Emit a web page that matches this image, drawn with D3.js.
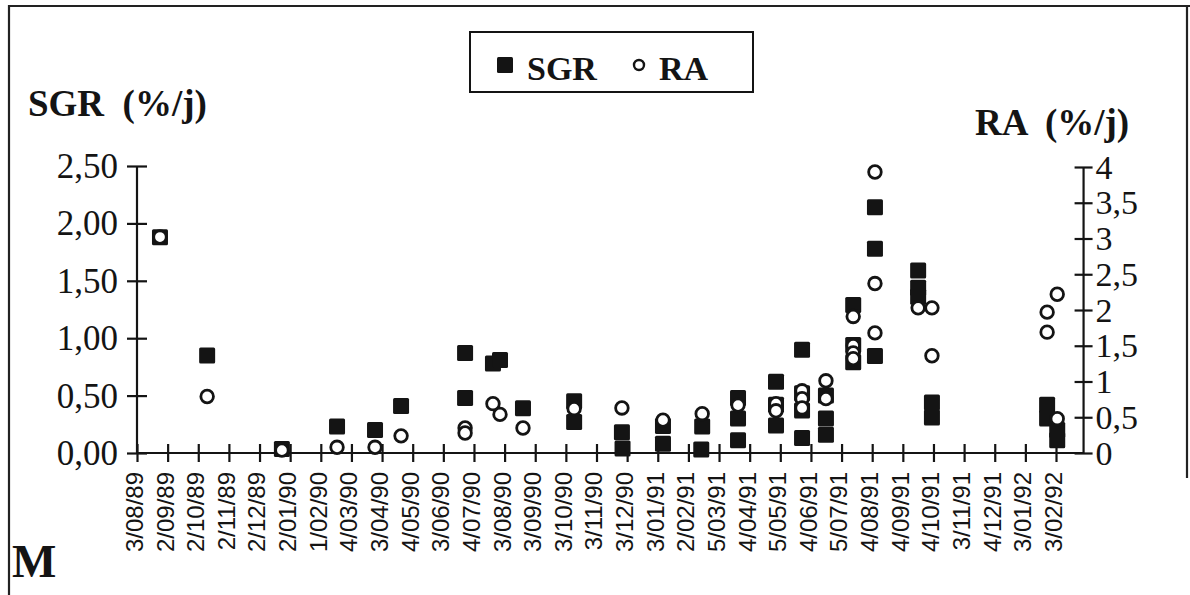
<!DOCTYPE html>
<html>
<head>
<meta charset="utf-8">
<script src="https://cdn.jsdelivr.net/npm/d3@7/dist/d3.min.js"></script>
<style>
  html, body { margin: 0; padding: 0; background: #fff; }
  svg { display: block; }
  text { white-space: pre; }
</style>
</head>
<body>
<script>
// ---------- data ----------
const dateLabels = ["3/08/89","2/09/89","2/10/89","2/11/89","2/12/89","2/01/90","1/02/90","4/03/90","3/04/90","4/05/90",
  "3/06/90","4/07/90","3/08/90","3/09/90","3/10/90","3/11/90","3/12/90","3/01/91","2/02/91","5/03/91",
  "4/04/91","5/05/91","4/06/91","5/07/91","4/08/91","4/09/91","4/10/91","3/11/91","4/12/91","3/01/92","3/02/92"];
const sgrTicks = [0, 0.5, 1, 1.5, 2, 2.5];
const raTicks = [0, 0.5, 1, 1.5, 2, 2.5, 3, 3.5, 4];

// position in months from 3/08/89 (tick index), value
const sgrPoints = [
  [0.75, 1.88], [2.29, 0.85], [4.73, 0.035], [6.53, 0.23], [7.77, 0.20], [8.62, 0.41],
  [10.71, 0.87], [10.71, 0.48], [11.62, 0.78], [11.85, 0.81], [12.60, 0.39],
  [14.27, 0.45], [14.27, 0.27], [15.83, 0.18], [15.85, 0.04],
  [17.17, 0.235], [17.17, 0.08], [18.45, 0.23], [18.42, 0.03],
  [19.62, 0.48], [19.62, 0.30], [19.62, 0.11],
  [20.86, 0.62], [20.86, 0.42], [20.86, 0.24],
  [21.71, 0.90], [21.71, 0.52], [21.71, 0.37], [21.71, 0.13],
  [22.49, 0.50], [22.49, 0.30], [22.49, 0.16],
  [23.38, 1.29], [23.38, 0.94], [23.38, 0.79],
  [24.09, 2.14], [24.09, 1.78], [24.09, 0.845],
  [25.50, 1.59], [25.50, 1.44], [25.50, 1.36],
  [25.95, 0.44], [25.95, 0.31],
  [29.71, 0.42], [29.71, 0.30], [30.04, 0.20], [30.04, 0.11]
];
const raPoints = [
  [0.75, 3.02], [2.29, 0.79], [4.73, 0.04], [6.53, 0.08], [7.77, 0.08], [8.62, 0.24],
  [10.71, 0.35], [10.71, 0.28], [11.62, 0.69], [11.85, 0.54], [12.60, 0.35],
  [14.27, 0.62], [15.83, 0.63], [17.17, 0.46], [18.45, 0.55], [19.62, 0.67],
  [20.86, 0.69], [20.86, 0.59],
  [21.71, 0.87], [21.71, 0.76], [21.71, 0.63],
  [22.49, 1.01], [22.49, 0.76],
  [23.38, 1.91], [23.38, 1.50], [23.38, 1.40], [23.38, 1.32],
  [24.09, 3.93], [24.09, 2.37], [24.09, 1.68],
  [25.50, 2.03], [25.95, 2.03], [25.95, 1.36],
  [29.71, 1.69], [29.71, 1.97], [30.04, 2.22], [30.04, 0.48]
];

// ---------- setup ----------
const W = 1190, H = 595;
const ink = "#141414";
const serif = "'Liberation Serif', 'Times New Roman', serif";
const sans = "'Liberation Sans', Arial, sans-serif";

const svg = d3.select("body").append("svg").attr("width", W).attr("height", H);

const x = d3.scaleLinear().domain([0, dateLabels.length - 1]).range([137, 1056]);
const xEnd = x(30.9);
const yL = d3.scaleLinear().domain([0, 2.5]).range([453, 166]);
const yR = d3.scaleLinear().domain([0, 4]).range([453, 167]);

const loc = d3.formatLocale({decimal: ",", thousands: " ", grouping: [3], currency: ["", ""]});
const fmtL = loc.format(".2f");
const fmtR = loc.format(".1~f");

// frame
svg.append("path")
  .attr("d", `M9,596 L9,6 L1190,6 M1187,6 L1187,478`)
  .attr("fill", "none").attr("stroke", "#222").attr("stroke-width", 2.2);

// ---------- axes ----------
const axL = svg.append("g").attr("transform", `translate(${x(0)},0)`)
  .call(d3.axisLeft(yL).tickValues(sgrTicks).tickFormat(fmtL).tickSize(0).tickPadding(0));
const axR = svg.append("g").attr("transform", `translate(${xEnd},0)`)
  .call(d3.axisRight(yR).tickValues(raTicks).tickFormat(fmtR).tickSize(0).tickPadding(0));
const axB = svg.append("g").attr("transform", `translate(0,${yL(0)})`)
  .call(d3.axisBottom(x).tickValues(d3.range(dateLabels.length)).tickFormat(i => dateLabels[i]).tickSize(0).tickPadding(0));

[axL, axR, axB].forEach(g => {
  g.select(".domain").remove();
  g.selectAll("text").attr("fill", ink);
});

// axis lines
svg.append("line").attr("x1", x(0)).attr("x2", x(0)).attr("y1", yL(2.5)).attr("y2", yL(0))
  .attr("stroke", ink).attr("stroke-width", 2.2);
svg.append("line").attr("x1", xEnd).attr("x2", xEnd).attr("y1", yR(4)).attr("y2", yR(0))
  .attr("stroke", ink).attr("stroke-width", 2.2);
svg.append("line").attr("x1", x(0)).attr("x2", xEnd).attr("y1", yL(0)).attr("y2", yL(0))
  .attr("stroke", ink).attr("stroke-width", 2.2);

// crossing tick marks
axL.selectAll(".tick line").attr("x1", -10).attr("x2", 10).attr("stroke", ink).attr("stroke-width", 2.2);
axR.selectAll(".tick line").attr("x1", -9).attr("x2", 9).attr("stroke", ink).attr("stroke-width", 2.2);
axB.selectAll(".tick line").attr("y1", -9).attr("y2", 9).attr("stroke", ink).attr("stroke-width", 2.2);

axL.selectAll("text").attr("x", -19).attr("dy", "0.33em")
  .style("font-family", serif).style("font-size", "35px").attr("text-anchor", "end");
axR.selectAll("text").attr("x", 12).attr("dy", "0.33em")
  .style("font-family", serif).style("font-size", "34px").attr("text-anchor", "start");
axB.selectAll("text")
  .attr("transform", "rotate(-90)")
  .attr("x", -19).attr("y", -3).attr("dy", "0.35em")
  .attr("text-anchor", "end")
  .style("font-family", sans).style("font-size", "24px");

// ---------- marks ----------
svg.append("g").selectAll("rect").data(sgrPoints).join("rect")
  .attr("x", d => x(d[0]) - 8).attr("y", d => yL(d[1]) - 8)
  .attr("width", 16).attr("height", 16).attr("rx", 1.5)
  .attr("fill", ink);

svg.append("g").selectAll("circle").data(raPoints).join("circle")
  .attr("cx", d => x(d[0])).attr("cy", d => yR(d[1])).attr("r", 6.3)
  .attr("fill", "#fff").attr("stroke", ink).attr("stroke-width", 2.8);

// ---------- titles ----------
svg.append("text").attr("x", 28).attr("y", 116)
  .style("font-family", serif).style("font-size", "37px").style("font-weight", "bold")
  .attr("fill", ink).text("SGR  (%/j)");
svg.append("text").attr("x", 975).attr("y", 135)
  .style("font-family", serif).style("font-size", "37px").style("font-weight", "bold")
  .attr("fill", ink).text("RA  (%/j)");
svg.append("text").attr("x", 12).attr("y", 577)
  .style("font-family", serif).style("font-size", "47px").style("font-weight", "bold")
  .attr("fill", ink).text("M");

// ---------- legend ----------
const lg = svg.append("g");
lg.append("rect").attr("x", 470).attr("y", 32).attr("width", 283).attr("height", 60)
  .attr("fill", "#fff").attr("stroke", ink).attr("stroke-width", 2);
lg.append("rect").attr("x", 497).attr("y", 57).attr("width", 16).attr("height", 16).attr("rx", 1.5).attr("fill", ink);
lg.append("text").attr("x", 527).attr("y", 80)
  .style("font-family", serif).style("font-size", "34px").style("font-weight", "bold")
  .attr("fill", ink).text("SGR");
lg.append("circle").attr("cx", 639).attr("cy", 65).attr("r", 5).attr("fill", "#fff").attr("stroke", ink).attr("stroke-width", 2.4);
lg.append("text").attr("x", 659).attr("y", 80)
  .style("font-family", serif).style("font-size", "34px").style("font-weight", "bold")
  .attr("fill", ink).text("RA");
</script>
</body>
</html>
